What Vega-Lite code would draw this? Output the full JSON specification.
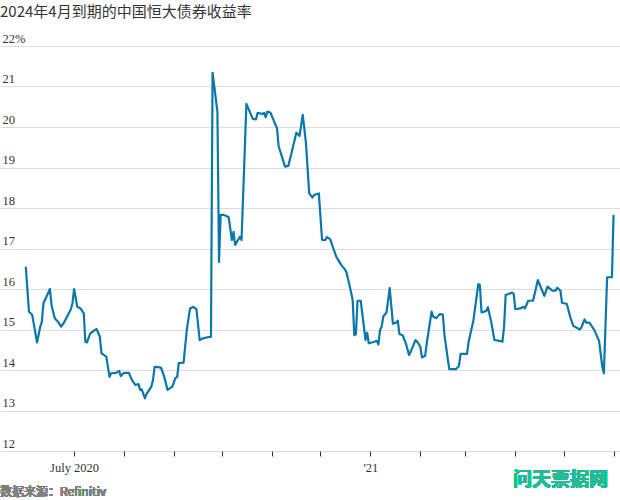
{
  "$schema": "https://vega.github.io/schema/vega-lite/v6.json",
  "width": 620,
  "height": 405,
  "autosize": {"type": "none"},
  "padding": {"left": 0, "top": 46, "right": 0, "bottom": 49},
  "background": "white",
  "title": {
    "text": "2024年4月到期的中国恒大债券收益率",
    "anchor": "start",
    "frame": "group",
    "font": "Noto Sans CJK SC",
    "fontSize": 15,
    "fontWeight": "normal",
    "color": "#333333",
    "offset": 12
  },
  "config": {"view": {"stroke": null}},
  "data": {"values": [
    {"date": "2020/06/01", "yield": 16.55},
    {"date": "2020/06/03", "yield": 15.44},
    {"date": "2020/06/04", "yield": 15.40},
    {"date": "2020/06/05", "yield": 15.36},
    {"date": "2020/06/08", "yield": 14.68},
    {"date": "2020/06/10", "yield": 15.07},
    {"date": "2020/06/11", "yield": 15.19},
    {"date": "2020/06/12", "yield": 15.65},
    {"date": "2020/06/16", "yield": 16.00},
    {"date": "2020/06/17", "yield": 15.60},
    {"date": "2020/06/19", "yield": 15.28},
    {"date": "2020/06/21", "yield": 15.19},
    {"date": "2020/06/23", "yield": 15.07},
    {"date": "2020/06/25", "yield": 15.19},
    {"date": "2020/06/29", "yield": 15.50},
    {"date": "2020/06/30", "yield": 15.65},
    {"date": "2020/07/01", "yield": 16.00},
    {"date": "2020/07/03", "yield": 15.56},
    {"date": "2020/07/05", "yield": 15.52},
    {"date": "2020/07/07", "yield": 15.40},
    {"date": "2020/07/08", "yield": 14.70},
    {"date": "2020/07/09", "yield": 14.68},
    {"date": "2020/07/11", "yield": 14.90},
    {"date": "2020/07/14", "yield": 14.99},
    {"date": "2020/07/15", "yield": 15.01},
    {"date": "2020/07/17", "yield": 14.82},
    {"date": "2020/07/18", "yield": 14.41},
    {"date": "2020/07/21", "yield": 14.33},
    {"date": "2020/07/23", "yield": 13.83},
    {"date": "2020/07/24", "yield": 13.92},
    {"date": "2020/07/27", "yield": 13.93},
    {"date": "2020/07/29", "yield": 13.98},
    {"date": "2020/07/30", "yield": 13.85},
    {"date": "2020/08/01", "yield": 13.93},
    {"date": "2020/08/04", "yield": 13.93},
    {"date": "2020/08/06", "yield": 13.75},
    {"date": "2020/08/08", "yield": 13.63},
    {"date": "2020/08/10", "yield": 13.65},
    {"date": "2020/08/11", "yield": 13.51},
    {"date": "2020/08/12", "yield": 13.52},
    {"date": "2020/08/14", "yield": 13.30},
    {"date": "2020/08/15", "yield": 13.41},
    {"date": "2020/08/18", "yield": 13.59},
    {"date": "2020/08/19", "yield": 13.75},
    {"date": "2020/08/20", "yield": 14.08},
    {"date": "2020/08/22", "yield": 14.07},
    {"date": "2020/08/24", "yield": 14.06},
    {"date": "2020/08/26", "yield": 13.83},
    {"date": "2020/08/28", "yield": 13.51},
    {"date": "2020/08/31", "yield": 13.59},
    {"date": "2020/09/02", "yield": 13.81},
    {"date": "2020/09/03", "yield": 13.82},
    {"date": "2020/09/04", "yield": 14.17},
    {"date": "2020/09/07", "yield": 14.18},
    {"date": "2020/09/09", "yield": 14.99},
    {"date": "2020/09/11", "yield": 15.52},
    {"date": "2020/09/13", "yield": 15.56},
    {"date": "2020/09/15", "yield": 15.50},
    {"date": "2020/09/17", "yield": 14.74},
    {"date": "2020/09/19", "yield": 14.78},
    {"date": "2020/09/22", "yield": 14.81},
    {"date": "2020/09/24", "yield": 14.82},
    {"date": "2020/09/25", "yield": 21.34},
    {"date": "2020/09/28", "yield": 20.38},
    {"date": "2020/09/29", "yield": 16.67},
    {"date": "2020/09/30", "yield": 17.83},
    {"date": "2020/10/02", "yield": 17.83},
    {"date": "2020/10/05", "yield": 17.77},
    {"date": "2020/10/07", "yield": 17.21},
    {"date": "2020/10/08", "yield": 17.41},
    {"date": "2020/10/09", "yield": 17.09},
    {"date": "2020/10/12", "yield": 17.29},
    {"date": "2020/10/13", "yield": 17.21},
    {"date": "2020/10/16", "yield": 20.57},
    {"date": "2020/10/20", "yield": 20.20},
    {"date": "2020/10/22", "yield": 20.19},
    {"date": "2020/10/23", "yield": 20.35},
    {"date": "2020/10/26", "yield": 20.32},
    {"date": "2020/10/27", "yield": 20.35},
    {"date": "2020/10/28", "yield": 20.24},
    {"date": "2020/10/29", "yield": 20.38},
    {"date": "2020/10/31", "yield": 20.35},
    {"date": "2020/11/04", "yield": 19.97},
    {"date": "2020/11/05", "yield": 19.53},
    {"date": "2020/11/09", "yield": 19.02},
    {"date": "2020/11/11", "yield": 19.04},
    {"date": "2020/11/13", "yield": 19.35},
    {"date": "2020/11/16", "yield": 19.86},
    {"date": "2020/11/18", "yield": 19.78},
    {"date": "2020/11/20", "yield": 20.30},
    {"date": "2020/11/22", "yield": 19.60},
    {"date": "2020/11/24", "yield": 18.36},
    {"date": "2020/11/26", "yield": 18.26},
    {"date": "2020/11/27", "yield": 18.32},
    {"date": "2020/11/30", "yield": 18.36},
    {"date": "2020/12/02", "yield": 17.21},
    {"date": "2020/12/04", "yield": 17.21},
    {"date": "2020/12/05", "yield": 17.28},
    {"date": "2020/12/07", "yield": 17.23},
    {"date": "2020/12/09", "yield": 17.00},
    {"date": "2020/12/11", "yield": 16.78},
    {"date": "2020/12/14", "yield": 16.59},
    {"date": "2020/12/16", "yield": 16.49},
    {"date": "2020/12/17", "yield": 16.43},
    {"date": "2020/12/19", "yield": 16.10},
    {"date": "2020/12/21", "yield": 15.73},
    {"date": "2020/12/22", "yield": 14.86},
    {"date": "2020/12/23", "yield": 14.88},
    {"date": "2020/12/24", "yield": 15.71},
    {"date": "2020/12/26", "yield": 15.71},
    {"date": "2020/12/29", "yield": 14.74},
    {"date": "2020/12/30", "yield": 14.92},
    {"date": "2020/12/31", "yield": 14.66},
    {"date": "2021/01/03", "yield": 14.69},
    {"date": "2021/01/05", "yield": 14.72},
    {"date": "2021/01/06", "yield": 14.63},
    {"date": "2021/01/07", "yield": 14.99},
    {"date": "2021/01/08", "yield": 15.07},
    {"date": "2021/01/09", "yield": 15.32},
    {"date": "2021/01/11", "yield": 15.42},
    {"date": "2021/01/13", "yield": 16.02},
    {"date": "2021/01/15", "yield": 15.14},
    {"date": "2021/01/17", "yield": 15.17},
    {"date": "2021/01/18", "yield": 15.22},
    {"date": "2021/01/19", "yield": 14.89},
    {"date": "2021/01/21", "yield": 14.86},
    {"date": "2021/01/23", "yield": 14.66},
    {"date": "2021/01/25", "yield": 14.37},
    {"date": "2021/01/27", "yield": 14.54},
    {"date": "2021/01/29", "yield": 14.74},
    {"date": "2021/01/30", "yield": 14.70},
    {"date": "2021/02/01", "yield": 14.58},
    {"date": "2021/02/02", "yield": 14.31},
    {"date": "2021/02/04", "yield": 14.35},
    {"date": "2021/02/05", "yield": 14.66},
    {"date": "2021/02/08", "yield": 15.44},
    {"date": "2021/02/09", "yield": 15.32},
    {"date": "2021/02/11", "yield": 15.28},
    {"date": "2021/02/13", "yield": 15.38},
    {"date": "2021/02/15", "yield": 15.37},
    {"date": "2021/02/16", "yield": 14.86},
    {"date": "2021/02/18", "yield": 14.29},
    {"date": "2021/02/19", "yield": 14.02},
    {"date": "2021/02/23", "yield": 14.02},
    {"date": "2021/02/25", "yield": 14.10},
    {"date": "2021/02/26", "yield": 14.40},
    {"date": "2021/03/02", "yield": 14.40},
    {"date": "2021/03/03", "yield": 14.70},
    {"date": "2021/03/06", "yield": 15.23},
    {"date": "2021/03/09", "yield": 16.12},
    {"date": "2021/03/10", "yield": 16.10},
    {"date": "2021/03/11", "yield": 15.42},
    {"date": "2021/03/14", "yield": 15.46},
    {"date": "2021/03/15", "yield": 15.55},
    {"date": "2021/03/17", "yield": 15.19},
    {"date": "2021/03/19", "yield": 14.74},
    {"date": "2021/03/22", "yield": 14.72},
    {"date": "2021/03/24", "yield": 14.70},
    {"date": "2021/03/25", "yield": 15.07},
    {"date": "2021/03/26", "yield": 15.85},
    {"date": "2021/03/30", "yield": 15.91},
    {"date": "2021/03/31", "yield": 15.88},
    {"date": "2021/04/01", "yield": 15.50},
    {"date": "2021/04/04", "yield": 15.52},
    {"date": "2021/04/06", "yield": 15.56},
    {"date": "2021/04/07", "yield": 15.52},
    {"date": "2021/04/09", "yield": 15.71},
    {"date": "2021/04/12", "yield": 15.71},
    {"date": "2021/04/15", "yield": 16.22},
    {"date": "2021/04/19", "yield": 15.83},
    {"date": "2021/04/21", "yield": 16.06},
    {"date": "2021/04/24", "yield": 15.96},
    {"date": "2021/04/26", "yield": 15.96},
    {"date": "2021/04/27", "yield": 16.03},
    {"date": "2021/04/29", "yield": 15.96},
    {"date": "2021/04/30", "yield": 15.66},
    {"date": "2021/05/03", "yield": 15.63},
    {"date": "2021/05/05", "yield": 15.32},
    {"date": "2021/05/07", "yield": 15.09},
    {"date": "2021/05/11", "yield": 15.00},
    {"date": "2021/05/12", "yield": 15.05},
    {"date": "2021/05/14", "yield": 15.25},
    {"date": "2021/05/15", "yield": 15.17},
    {"date": "2021/05/17", "yield": 15.17},
    {"date": "2021/05/20", "yield": 14.99},
    {"date": "2021/05/23", "yield": 14.72},
    {"date": "2021/05/25", "yield": 14.08},
    {"date": "2021/05/26", "yield": 13.92},
    {"date": "2021/05/28", "yield": 16.29},
    {"date": "2021/05/31", "yield": 16.29},
    {"date": "2021/06/01", "yield": 17.83}
  ]},
  "layer": [
    {
      "mark": {"type": "line", "color": "#0a77aa", "strokeWidth": 2.2, "strokeJoin": "round"},
      "encoding": {
        "x": {
          "field": "date",
          "type": "temporal",
          "scale": {"domain": [{"year": 2020, "month": "may", "date": 16}, {"year": 2021, "month": "jun", "date": 5}]},
          "axis": {
            "title": null,
            "domain": false,
            "grid": false,
            "ticks": true,
            "tickSize": 5,
            "tickColor": "#333333",
            "tickWidth": 1,
            "values": [
              {"year": 2020, "month": "jul", "date": 1},
              {"year": 2020, "month": "aug", "date": 1},
              {"year": 2020, "month": "sep", "date": 1},
              {"year": 2020, "month": "oct", "date": 1},
              {"year": 2020, "month": "nov", "date": 1},
              {"year": 2020, "month": "dec", "date": 1},
              {"year": 2021, "month": "jan", "date": 1},
              {"year": 2021, "month": "feb", "date": 1},
              {"year": 2021, "month": "mar", "date": 1},
              {"year": 2021, "month": "apr", "date": 1},
              {"year": 2021, "month": "may", "date": 1},
              {"year": 2021, "month": "jun", "date": 1}
            ],
            "labelExpr": "month(datum.value) == 6 && year(datum.value) == 2020 ? 'July 2020' : (month(datum.value) == 0 ? \"'\" + substring(toString(year(datum.value)), 2, 4) : '')",
            "labelFont": "Liberation Sans Narrow",
            "labelFontSize": 12.5,
            "labelColor": "#333333",
            "labelPadding": 5,
            "labelFlush": false,
            "labelOverlap": false
          }
        },
        "y": {
          "field": "yield",
          "type": "quantitative",
          "scale": {"domain": [12, 22], "nice": false, "zero": false},
          "axis": {
            "title": null,
            "values": [12, 13, 14, 15, 16, 17, 18, 19, 20, 21, 22],
            "domain": false,
            "ticks": false,
            "tickSize": 0,
            "grid": true,
            "gridColor": "#dddddd",
            "gridWidth": 1,
            "labelAlign": "left",
            "labelBaseline": "alphabetic",
            "labelPadding": -2,
            "labelOffset": -4,
            "labelFont": "Liberation Sans Narrow",
            "labelFontSize": 12.5,
            "labelColor": "#333333",
            "labelExpr": "datum.value == 22 ? '22%' : datum.label"
          }
        }
      }
    },
    {
      "mark": {"type": "text", "align": "left", "baseline": "middle", "font": "Noto Sans CJK SC", "fontSize": 12, "fontWeight": "normal", "color": "#808080"},
      "encoding": {
        "x": {"datum": {"year": 2020, "month": "may", "date": 16}, "type": "temporal"},
        "y": {"datum": 10.99, "type": "quantitative"},
        "text": {"value": "数据来源：Refinitiv"}
      }
    },
    {
      "mark": {"type": "text", "align": "center", "baseline": "middle", "font": "Noto Sans CJK SC", "fontSize": 19, "fontWeight": "bold", "color": "#22bb94"},
      "encoding": {
        "x": {"datum": {"year": 2021, "month": "apr", "date": 29}, "type": "temporal"},
        "y": {"datum": 11.28, "type": "quantitative"},
        "text": {"value": "问天票据网"}
      }
    }
  ]
}
